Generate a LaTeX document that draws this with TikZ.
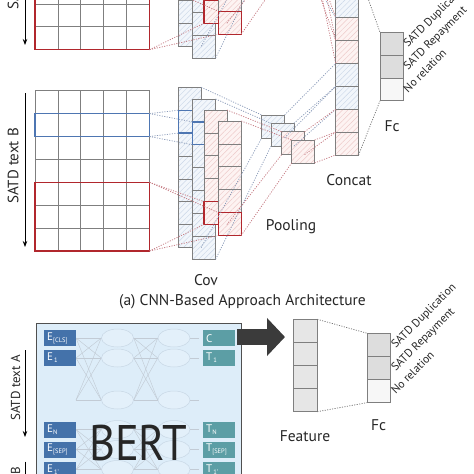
\documentclass[tikz,border=0pt]{standalone}
\usepackage{fontspec}
\setmainfont{PT Sans}
\usetikzlibrary{patterns.meta,arrows.meta,calc,shapes.geometric}
\definecolor{cellgray}{HTML}{7F7F7F}
\definecolor{boxred}{HTML}{B1272D}
\definecolor{boxblue}{HTML}{4E76B2}
\definecolor{hblue}{HTML}{CAD6E7}
\definecolor{fblue}{HTML}{F2F6FB}
\definecolor{hpink}{HTML}{EDC9C9}
\definecolor{fpink}{HTML}{FDF3F2}
\definecolor{dotred}{HTML}{C47880}
\definecolor{dotblue}{HTML}{8A9AB8}
\definecolor{dotgray}{HTML}{777777}
\definecolor{bertbg}{HTML}{DDEDF9}
\definecolor{bertborder}{HTML}{505050}
\definecolor{eboxc}{HTML}{4472AA}
\definecolor{tboxc}{HTML}{5C9EA5}
\definecolor{trmfill}{HTML}{E3F0FA}
\definecolor{trmdraw}{HTML}{C8D7E5}
\definecolor{faintc}{HTML}{C2CBD5}
\definecolor{darkarrow}{HTML}{3B3B3B}
\definecolor{fcdark}{HTML}{DDDDDD}
\definecolor{fclight}{HTML}{F7F7F7}
\definecolor{featfill}{HTML}{E6E6E6}
\definecolor{txt}{HTML}{262626}
\tikzset{
  cell/.style={draw=cellgray, line width=0.8pt, minimum width=22.9pt, minimum height=22.9pt, inner sep=0pt, outer sep=0pt, anchor=north west},
  gridcell/.style={cell, fill=white},
  hatch/.style={pattern={Lines[angle=45,distance=3.8pt,line width=0.45pt]}},
  bluecell/.style={cell, preaction={fill=fblue}, hatch, pattern color=hblue},
  pinkcell/.style={cell, preaction={fill=fpink}, hatch, pattern color=hpink},
  featcell/.style={cell, fill=featfill, minimum width=24pt, minimum height=23.1pt},
  fcdarkcell/.style={cell, fill=fcdark},
  fclightcell/.style={cell, fill=fclight},
  redbox/.style={draw=boxred, line width=1.3pt},
  bluebox/.style={draw=boxblue, line width=1.3pt},
  dotline/.style={line width=0.75pt, dash pattern=on 1.1pt off 1.4pt},
  lbl/.style={font=\fontsize{15.5}{17}\selectfont, text=txt, inner sep=0pt, anchor=base},
  sidelbl/.style={font=\fontsize{15}{17}\selectfont, text=txt, rotate=90, inner sep=0pt, anchor=base},
  sidelblsmall/.style={sidelbl, font=\fontsize{13}{15}\selectfont},
  clslbl/.style={font=\fontsize{11.5}{13}\selectfont, rotate=45, anchor=base west, inner sep=0pt, text=txt},
  sidearrow/.style={line width=0.9pt, -{Stealth[length=6pt,width=4.5pt]}},
  bertbox/.style={draw=bertborder, fill=bertbg, line width=1.2pt, anchor=north west, inner sep=0pt, minimum width=205pt, minimum height=175pt},
  tokbox/.style={anchor=north west, minimum width=31.5pt, minimum height=16pt, inner xsep=3pt, inner ysep=0pt, text width=25.5pt, align=left, text=white, font=\fontsize{11}{12}\selectfont},
  ebox/.style={tokbox, fill=eboxc},
  tbox/.style={tokbox, fill=tboxc},
  trm/.style={ellipse, draw=trmdraw, fill=trmfill, line width=0.5pt, minimum width=32pt, minimum height=18pt, inner sep=0pt},
  faint/.style={draw=faintc, line width=0.45pt},
  bigarrow/.style={draw=darkarrow, line width=16pt, -{Triangle[length=18pt,width=37pt]}},
}
\newcommand\sbs[1]{\textsubscript{\fontsize{6.5}{6.5}\selectfont #1}}
\newcommand\cnnbranch[3]{%
\begin{scope}[shift={(0,#2)}]
  \foreach \rr in {1,...,7}{\foreach \cq in {1,...,5}{
    \node[gridcell] (#1g\rr\cq) at ({35+(\cq-1)*22.9},{90.7+(\rr-1)*22.9}) {};}}
  \draw[bluebox] (#1g21.north west) rectangle (#1g25.south east);
  \draw[redbox] (#1g51.north west) rectangle (#1g75.south east);
  \foreach \ii in {1,...,7}{\node[bluecell] (#1ca\ii) at (178.3,{87.3+(\ii-1)*22.9}) {};}
  \draw[bluebox] (#1ca2.north west) rectangle (#1ca2.south east);
  \foreach \ii in {1,...,7}{\node[bluecell] (#1cb\ii) at (192.7,{99+(\ii-1)*22.9}) {};}
  \draw[bluebox] (#1cb2.north west) rectangle (#1cb2.south east);
  \foreach \ii in {1,...,5}{\node[pinkcell] (#1cc\ii) at (204,{110+(\ii-1)*22.9}) {};}
  \draw[redbox] (#1cc5.north west) rectangle (#1cc5.south east);
  \foreach \ii in {1,...,5}{\node[pinkcell] (#1cd\ii) at (218.3,{121+(\ii-1)*22.9}) {};}
  \draw[redbox] (#1cd5.north west) rectangle (#1cd5.south east);
  \node[bluecell] (#1pa) at (261.7,115) {};
  \node[bluecell] (#1pb) at (271,123.3) {};
  \node[pinkcell] (#1pc) at (281.7,131.7) {};
  \node[pinkcell] (#1pd) at (291.7,140) {};
\end{scope}
  \foreach \cn in {ca,cb}{
    \draw[dotline,dotblue] (#1g25.north east) -- (#1\cn2.north west);
    \draw[dotline,dotblue] (#1g25.south east) -- (#1\cn2.south west);}
  \foreach \cn in {cc,cd}{
    \draw[dotline,dotred] (#1g55.north east) -- (#1\cn5.north west);
    \draw[dotline,dotred] (#1g75.south east) -- (#1\cn5.south west);}
  \foreach \cn/\cm/\pn/\lc in {ca/7/pa/dotblue,cb/7/pb/dotblue,cc/5/pc/dotred,cd/5/pd/dotred}{
    \draw[dotline,\lc] (#1\cn1.north east) -- (#1\pn.north west);
    \draw[dotline,\lc] (#1\cn\cm.south east) -- (#1\pn.south west);}
  \foreach \pn/\kk/\lc in {pa/1/dotblue,pb/2/dotblue,pc/3/dotred,pd/4/dotred}{
    \pgfmathtruncatemacro\cci{\kk+#3}
    \draw[dotline,\lc] (#1\pn.north east) -- (cat\cci.north west);
    \draw[dotline,\lc] (#1\pn.south east) -- (cat\cci.south west);}
}
\begin{document}
\begin{tikzpicture}[x=1pt,y=-1pt]
\useasboundingbox (0,0) rectangle (474,474);
\clip (0,0) rectangle (474,474);
% concat column and Fc (CNN)
\foreach \ii/\sty in {1/bluecell,2/bluecell,3/pinkcell,4/pinkcell,5/bluecell,6/bluecell,7/pinkcell,8/pinkcell}{
  \node[\sty] (cat\ii) at (335.7,{-28.2+(\ii-1)*22.9}) {};}
\node[fcdarkcell] (fca1) at (380,32.3) {};
\node[fcdarkcell] (fca2) at (380,55.1) {};
\node[fclightcell] (fca3) at (380,77.9) {};
\draw[dotline,dotgray] (cat1.north east) -- (fca1.north west);
\draw[dotline,dotgray] (cat8.south east) -- (fca3.south west);
% branches
\cnnbranch{A}{-201.3}{0}
\cnnbranch{B}{0}{4}
% side labels CNN
\coordinate (aas) at (25,-108);
\coordinate (aae) at (25,45);
\draw[sidearrow] (aas) -- (aae);
\node[sidelbl] (lta) at (18.3,-28) {SATD text A};
\coordinate (abs) at (25,93);
\coordinate (abe) at (25,247);
\draw[sidearrow] (abs) -- (abe);
\node[sidelbl] (ltb) at (18.3,166) {SATD text B};
% labels CNN
\node[lbl] (lcov) at (206,285) {Cov};
\node[lbl] (lpool) at (291,230) {Pooling};
\node[lbl] (lcat) at (349,185) {Concat};
\node[lbl] (lfc) at (392,131.7) {Fc};
\node[clslbl] (ca1) at ($(fca1.east)+(5,4)$) {SATD Duplication};
\node[clslbl] (ca2) at ($(fca2.east)+(5,4)$) {SATD Repayment};
\node[clslbl] (ca3) at ($(fca3.east)+(5,4)$) {No relation};
\node[lbl] (cap) at (242.5,305) {(a) CNN-Based Approach Architecture};
% BERT
\node[bertbox] (bert) at (36,322.7) {};
\foreach \gg/\ya/\yb/\yc in {u/338/358/400,l/429.5/449.5/469.5}{
  \coordinate (\gg in1) at (76,\ya);
  \coordinate (\gg in2) at (76,\yb);
  \coordinate (\gg in3) at (76,\yc);
  \node[trm] (\gg a1) at (117.5,\ya) {};
  \node[trm] (\gg a2) at (117.5,\yb) {};
  \node[trm] (\gg a3) at (117.5,\yc) {};
  \node[trm] (\gg b1) at (174,\ya) {};
  \node[trm] (\gg b2) at (174,\yb) {};
  \node[trm] (\gg b3) at (174,\yc) {};
  \coordinate (\gg out1) at (199,\ya);
  \coordinate (\gg out2) at (199,\yb);
  \coordinate (\gg out3) at (199,\yc);
  \foreach \ii in {1,2,3}{\foreach \jj in {1,2,3}{
    \draw[faint] (\gg in\ii) -- (\gg a\jj.west);
    \draw[faint] (\gg a\ii.east) -- (\gg b\jj.west);}
    \draw[faint] (\gg b\ii.east) -- (\gg out\ii);}
}
\node[ebox] (ecls) at (44,330) {E\sbs{[CLS]}};
\node[ebox] (eone) at (44,349.5) {E\sbs{\,1}};
\node[ebox] (en) at (44,421.5) {E\sbs{N}};
\node[ebox] (esep) at (44,441.5) {E\sbs{[SEP]}};
\node[ebox] (eonep) at (44,461.5) {E\sbs{\,1'}};
\node[tbox] (tc) at (203,330) {C};
\node[tbox] (tone) at (203,349.5) {T\sbs{\,1}};
\node[tbox] (tn) at (203,421.5) {T\sbs{N}};
\node[tbox] (tsep) at (203,441.5) {T\sbs{[SEP]}};
\node[tbox] (tonep) at (203,461.5) {T\sbs{\,1'}};
\node[font=\fontsize{50}{50}\selectfont, text=txt, inner sep=0pt, anchor=base] (berttxt) at (138.3,460) {\scalebox{0.89}[1]{BERT}};
% big arrow
\coordinate (arrs) at (237.3,337);
\coordinate (arre) at (285,337);
\draw[bigarrow] (arrs) -- (arre);
% feature and Fc
\foreach \ii in {1,...,4}{\node[featcell] (ft\ii) at (293.3,{319.3+(\ii-1)*23.1}) {};}
\node[fcdarkcell, minimum height=23.1pt, minimum width=23.4pt] (fcb1) at (367.3,333.3) {};
\node[fcdarkcell, minimum height=23.1pt, minimum width=23.4pt] (fcb2) at (367.3,356.4) {};
\node[fclightcell, minimum height=23.1pt, minimum width=23.4pt] (fcb3) at (367.3,379.5) {};
\draw[dotline,dotgray] (ft1.north east) -- (fcb1.north west);
\draw[dotline,dotgray] (ft4.south east) -- (fcb3.south west);
\node[lbl] (lfeat) at (305,441.7) {Feature};
\node[lbl] (lfcb) at (378.5,430.7) {Fc};
\node[clslbl] (cb1) at ($(fcb1.east)+(5,4)$) {SATD Duplication};
\node[clslbl] (cb2) at ($(fcb2.east)+(5,4)$) {SATD Repayment};
\node[clslbl] (cb3) at ($(fcb3.east)+(5,4)$) {No relation};
% side labels BERT
\coordinate (bas) at (25,350);
\coordinate (bae) at (25,437);
\draw[sidearrow] (bas) -- (bae);
\node[sidelblsmall] (bta) at (20,388) {SATD text A};
\coordinate (bbs) at (25,461.7);
\coordinate (bbe) at (25,560);
\draw[sidearrow] (bbs) -- (bbe);
\node[sidelblsmall] (btb) at (20,499.5) {SATD text B};
\end{tikzpicture}
\end{document}
